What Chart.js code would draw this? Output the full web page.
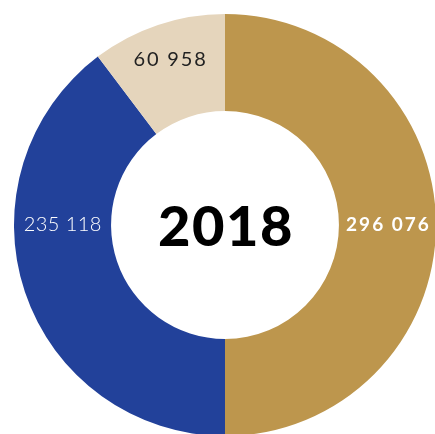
<!DOCTYPE html>
<html>
<head>
<meta charset="utf-8">
<script src="https://cdn.jsdelivr.net/npm/chart.js@4"></script>
<style>
  html, body { margin: 0; padding: 0; background: #fff; overflow: hidden; }
  #wrap { position: absolute; left: 0; top: 0; width: 450px; height: 450px; }
</style>
</head>
<body>
<div id="wrap"><canvas id="donut"></canvas></div>
<script>
var year = '2018';
var values = [296076, 235118, 60958];
var colors = ['#bd964d', '#22419a', '#e5d5bc'];
// where each value label sits inside its slice (fraction of the sweep / of the ring width)
var labelAngleFrac = [0.5, 0.63, 0.5];
var labelRadiusFrac = [0.5, 0.5, 0.62];
var labelFonts = [
  '700 19px Lato',
  '300 20px Lato',
  '400 20px Lato'
];
var labelSpacing = [2, 0.4, 1.8];
var labelColors = ['#ffffff', '#ffffff', '#222222'];

function fmt(n) {
  return String(n).replace(/\B(?=(\d{3})+(?!\d))/g, ' ');
}

var sliceLabels = {
  id: 'sliceLabels',
  afterDatasetsDraw: function (chart) {
    var ctx = chart.ctx;
    var arcs = chart.getDatasetMeta(0).data;
    ctx.save();
    ctx.textAlign = 'center';
    ctx.textBaseline = 'middle';
    arcs.forEach(function (arc, i) {
      var p = arc.getProps(['x', 'y', 'startAngle', 'endAngle', 'innerRadius', 'outerRadius'], true);
      var a = p.startAngle + labelAngleFrac[i] * (p.endAngle - p.startAngle);
      var r = p.innerRadius + labelRadiusFrac[i] * (p.outerRadius - p.innerRadius);
      ctx.font = labelFonts[i];
      ctx.letterSpacing = labelSpacing[i] + 'px';
      ctx.fillStyle = labelColors[i];
      ctx.fillText(fmt(values[i]), p.x + r * Math.cos(a) + labelSpacing[i] / 2, p.y + r * Math.sin(a));
    });
    // year in the hole
    var c = arcs[0];
    ctx.font = '900 56px Lato';
    ctx.letterSpacing = '1.5px';
    ctx.fillStyle = '#000';
    ctx.fillText(year, c.x + 1, c.y + 3);
    ctx.restore();
  }
};

new Chart(document.getElementById('donut'), {
  type: 'doughnut',
  data: {
    labels: ['', '', ''],
    datasets: [{
      data: values,
      backgroundColor: colors,
      borderWidth: 0
    }]
  },
  options: {
    responsive: true,
    maintainAspectRatio: false,
    animation: false,
    cutout: '54%',
    layout: { padding: 14 },
    plugins: {
      legend: { display: false },
      tooltip: { enabled: false }
    }
  },
  plugins: [sliceLabels]
});
</script>
</body>
</html>
